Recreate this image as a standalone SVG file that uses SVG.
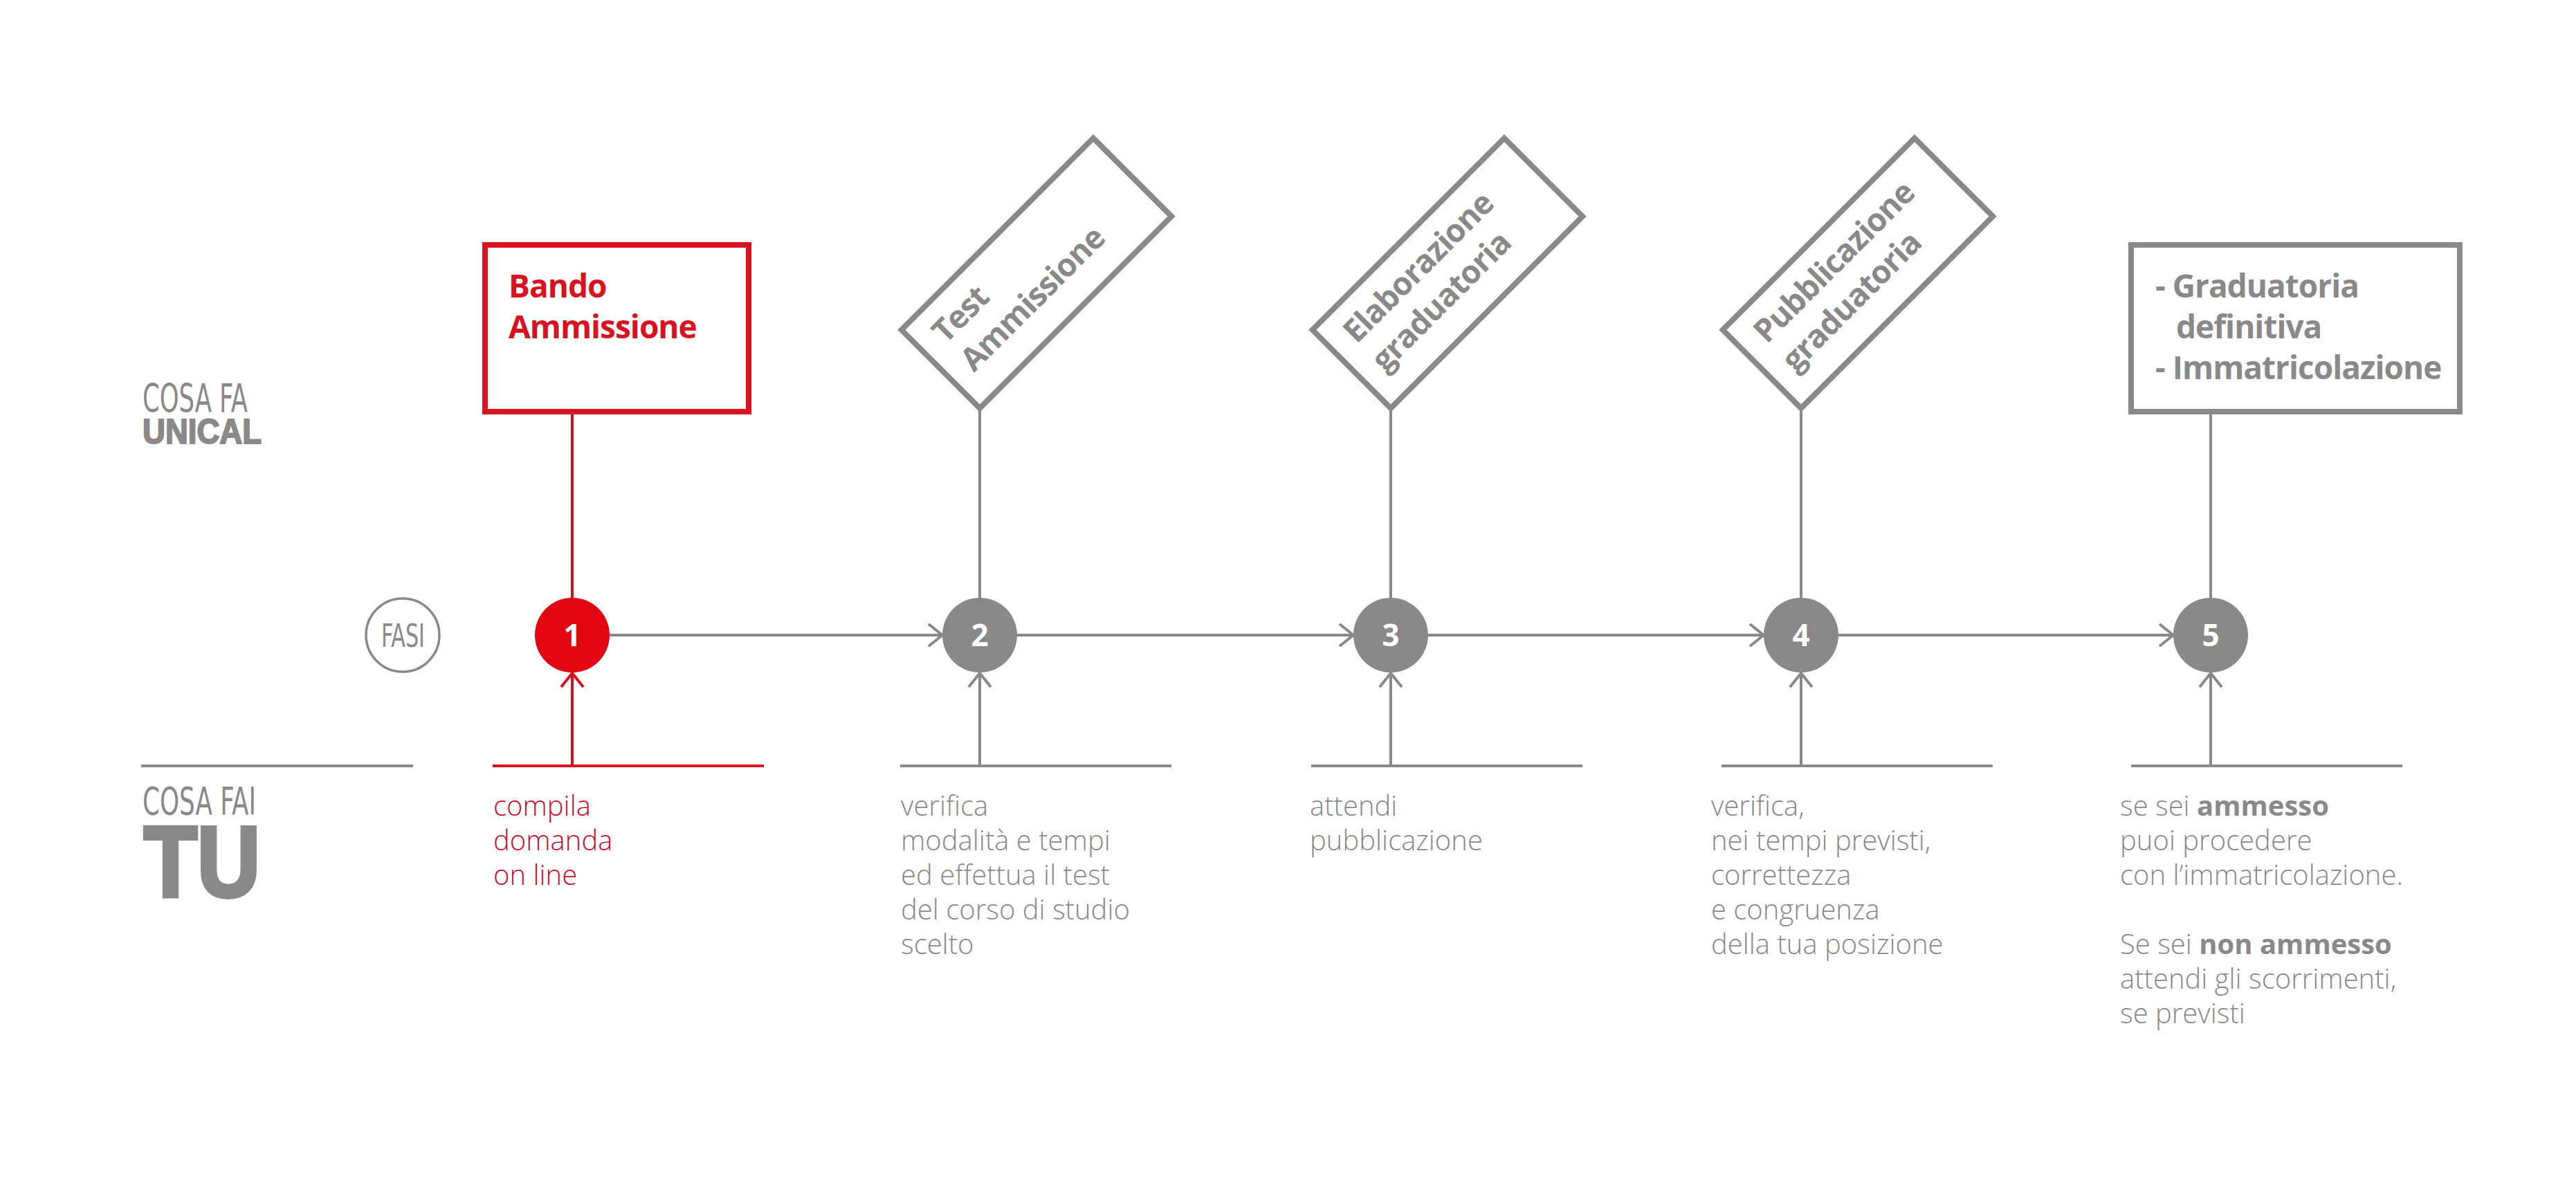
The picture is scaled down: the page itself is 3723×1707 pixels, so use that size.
<svg xmlns="http://www.w3.org/2000/svg" width="3723" height="1707" viewBox="0 0 3723 1707">
<style>
.bg{fill:#ffffff}
.gline{stroke:#898989;stroke-width:4;fill:none}
.rline{stroke:#d9121f;stroke-width:4;fill:none}
.gbox{stroke:#898989;stroke-width:8;fill:#ffffff}
.rbox{stroke:#d9121f;stroke-width:8;fill:#ffffff}
.btitle{font-family:"Open Sans","Liberation Sans",sans-serif;font-weight:700;font-size:46px;letter-spacing:-1px;fill:#898989}
.rtitle{font-family:"Open Sans","Liberation Sans",sans-serif;font-weight:700;font-size:46px;letter-spacing:-1px;fill:#d9121f}
.num{font-family:"Open Sans","Liberation Sans",sans-serif;font-weight:700;font-size:44px;fill:#ffffff;text-anchor:middle}
.desc{font-family:"Open Sans","Liberation Sans",sans-serif;font-weight:300;font-size:40px;fill:#898989}
.rdesc{font-family:"Open Sans","Liberation Sans",sans-serif;font-weight:300;font-size:40px;fill:#c8102e}
.cond{font-family:"Liberation Sans Narrow","DejaVu Sans Condensed","Liberation Sans",sans-serif;fill:#898989}
.heavy{font-family:"Liberation Sans Narrow","Liberation Sans",sans-serif;font-weight:700;fill:#898989;stroke:#898989}
b{font-weight:700}
</style>
<defs>
<marker id="ag" markerUnits="userSpaceOnUse" markerWidth="50" markerHeight="50" refX="0" refY="0" viewBox="-30 -25 40 50" orient="auto">
<path d="M-20,-16 L0,0 L-20,16" fill="none" stroke="#898989" stroke-width="4"/>
</marker>
<marker id="ar" markerUnits="userSpaceOnUse" markerWidth="50" markerHeight="50" refX="0" refY="0" viewBox="-30 -25 40 50" orient="auto">
<path d="M-20,-16 L0,0 L-20,16" fill="none" stroke="#d9121f" stroke-width="4"/>
</marker>
</defs>
<rect class="bg" x="0" y="0" width="3723" height="1707"/>

<g id="labels">
<text class="cond" x="206" y="596" font-size="57" textLength="152" lengthAdjust="spacingAndGlyphs">COSA FA</text>
<text class="heavy" x="206" y="641" font-size="50" stroke-width="2" textLength="172" lengthAdjust="spacingAndGlyphs">UNICAL</text>
<line class="gline" x1="204" y1="1107" x2="597" y2="1107"/>
<text class="cond" x="206" y="1177" font-size="56" textLength="164" lengthAdjust="spacingAndGlyphs">COSA FAI</text>
<text class="heavy" x="208" y="1296" font-size="145" stroke-width="6" textLength="168" lengthAdjust="spacingAndGlyphs">TU</text>
</g>

<g id="connectors">
<line class="rline" x1="827" y1="599" x2="827" y2="864"/>
<line class="gline" x1="1416" y1="590" x2="1416" y2="864"/>
<line class="gline" x1="2010" y1="590" x2="2010" y2="864"/>
<line class="gline" x1="2603" y1="590" x2="2603" y2="864"/>
<line class="gline" x1="3195" y1="599" x2="3195" y2="864"/>
<line class="gline" x1="881" y1="918" x2="1362" y2="918" marker-end="url(#ag)"/>
<line class="gline" x1="1470" y1="918" x2="1956" y2="918" marker-end="url(#ag)"/>
<line class="gline" x1="2064" y1="918" x2="2549" y2="918" marker-end="url(#ag)"/>
<line class="gline" x1="2657" y1="918" x2="3141" y2="918" marker-end="url(#ag)"/>
<line class="rline" x1="712" y1="1107" x2="1104" y2="1107"/>
<line class="rline" x1="827" y1="1107" x2="827" y2="973" marker-end="url(#ar)"/>
<line class="gline" x1="1301" y1="1107" x2="1693" y2="1107"/>
<line class="gline" x1="1416" y1="1107" x2="1416" y2="973" marker-end="url(#ag)"/>
<line class="gline" x1="1895" y1="1107" x2="2287" y2="1107"/>
<line class="gline" x1="2010" y1="1107" x2="2010" y2="973" marker-end="url(#ag)"/>
<line class="gline" x1="2488" y1="1107" x2="2880" y2="1107"/>
<line class="gline" x1="2603" y1="1107" x2="2603" y2="973" marker-end="url(#ag)"/>
<line class="gline" x1="3080" y1="1107" x2="3472" y2="1107"/>
<line class="gline" x1="3195" y1="1107" x2="3195" y2="973" marker-end="url(#ag)"/>
</g>

<g id="fasi">
<circle cx="582" cy="918" r="53" fill="#ffffff" stroke="#898989" stroke-width="3.5"/>
<text class="cond" x="551" y="935" font-size="47" textLength="63" lengthAdjust="spacingAndGlyphs">FASI</text>
</g>

<g id="node-1">
<rect class="rbox" x="701" y="354" width="381" height="241"/>
<text class="rtitle" x="735" y="430">Bando</text>
<text class="rtitle" x="735" y="489">Ammissione</text>
<circle cx="827" cy="918" r="54" fill="#e20613"/>
<text class="num" x="827" y="934">1</text>
<text class="rdesc"><tspan x="713" y="1179">compila</tspan><tspan x="713" y="1229">domanda</tspan><tspan x="713" y="1279">on line</tspan></text>
</g>

<g id="node-2">
<g transform="translate(1416,590) rotate(-45)">
<rect class="gbox" x="0" y="-160" width="392" height="160"/>
<text class="btitle" x="30" y="-100">Test</text>
<text class="btitle" x="30" y="-42">Ammissione</text>
</g>
<circle cx="1416" cy="918" r="54" fill="#898989"/>
<text class="num" x="1416" y="934">2</text>
<text class="desc"><tspan x="1302" y="1179">verifica</tspan><tspan x="1302" y="1229">modalità e tempi</tspan><tspan x="1302" y="1279">ed effettua il test</tspan><tspan x="1302" y="1329">del corso di studio</tspan><tspan x="1302" y="1379">scelto</tspan></text>
</g>

<g id="node-3">
<g transform="translate(2010,590) rotate(-45)">
<rect class="gbox" x="0" y="-160" width="392" height="160"/>
<text class="btitle" x="30" y="-100">Elaborazione</text>
<text class="btitle" x="30" y="-42">graduatoria</text>
</g>
<circle cx="2010" cy="918" r="54" fill="#898989"/>
<text class="num" x="2010" y="934">3</text>
<text class="desc"><tspan x="1893" y="1179">attendi</tspan><tspan x="1893" y="1229">pubblicazione</tspan></text>
</g>

<g id="node-4">
<g transform="translate(2603,590) rotate(-45)">
<rect class="gbox" x="0" y="-160" width="392" height="160"/>
<text class="btitle" x="30" y="-100">Pubblicazione</text>
<text class="btitle" x="30" y="-42">graduatoria</text>
</g>
<circle cx="2603" cy="918" r="54" fill="#898989"/>
<text class="num" x="2603" y="934">4</text>
<text class="desc"><tspan x="2473" y="1179">verifica,</tspan><tspan x="2473" y="1229">nei tempi previsti,</tspan><tspan x="2473" y="1279">correttezza</tspan><tspan x="2473" y="1329">e congruenza</tspan><tspan x="2473" y="1379">della tua posizione</tspan></text>
</g>

<g id="node-5">
<rect class="gbox" x="3080" y="354" width="475" height="241"/>
<text class="btitle" x="3115" y="430">- Graduatoria</text>
<text class="btitle" x="3145" y="489">definitiva</text>
<text class="btitle" x="3115" y="548">- Immatricolazione</text>
<circle cx="3195" cy="918" r="54" fill="#898989"/>
<text class="num" x="3195" y="934">5</text>
<text class="desc"><tspan x="3064" y="1179">se sei <tspan font-weight="700">ammesso</tspan></tspan><tspan x="3064" y="1229">puoi procedere</tspan><tspan x="3064" y="1279">con l’immatricolazione.</tspan><tspan x="3064" y="1379">Se sei <tspan font-weight="700">non ammesso</tspan></tspan><tspan x="3064" y="1429">attendi gli scorrimenti,</tspan><tspan x="3064" y="1479">se previsti</tspan></text>
</g>
</svg>
